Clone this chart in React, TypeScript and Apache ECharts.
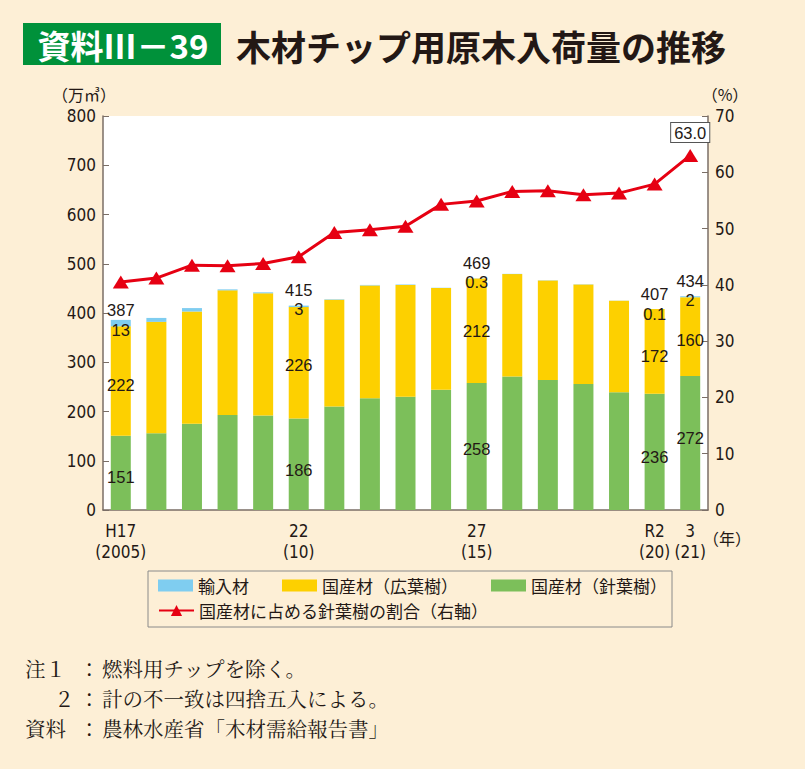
import React, { useEffect, useRef } from "react";
import * as echarts from "echarts";

// ---- data ----
const categories = ["2005","2006","2007","2008","2009","2010","2011","2012","2013","2014","2015","2016","2017","2018","2019","2020","2021"];
const tickLabels = ["H17\n(2005)","","","","","22\n(10)","","","","","27\n(15)","","","","","R2\n(20)","3\n(21)"];
const coniferous = [151,156,175,193,192,186,210,227,230,244,258,271,264,256,239,236,272];
const broadleaf = [222,226,228,253,248,226,217,229,227,207,212,208,202,202,186,172,160];
const imported = [13,8,7,2,2,3,1,1,1,0.5,0.3,0.5,0.5,0.5,0.3,0.1,2];
const importLabels = ["13","","","","","3","","","","","0.3","","","","","0.1","2"];
const totals = ["387","","","","","415","","","","","469","","","","","407","434"];
const ratio = [40.5,41.2,43.5,43.4,43.8,45.0,49.3,49.8,50.4,54.3,54.9,56.6,56.7,56.0,56.3,57.9,63.0];

const noteHeads = ["注１", "２", "資料"];
const noteBodies = ["燃料用チップを除く。", "計の不一致は四捨五入による。", "農林水産省「木材需給報告書」"];

// ---- label placement (style) ----
const coniferousLabelDy: Record<number, number> = { 0: 4, 5: 6, 10: 3, 15: 5, 16: -5 };
const broadleafLabelDy: Record<number, number> = { 0: 4, 5: 2, 10: 0, 15: 5, 16: 3 };
const importLabelDy: Record<number, number> = { 0: 0, 5: -6, 10: -6, 15: -5, 16: -6 };

const NUM_FONT = "'Liberation Sans Narrow', 'DejaVu Sans Condensed', 'Noto Sans CJK JP', sans-serif";
const LABEL_FONT = "'Liberation Sans', 'DejaVu Sans', sans-serif";
const JP_FONT = "'Noto Sans CJK JP', sans-serif";
const SERIF_FONT = "'Noto Serif CJK JP', 'Noto Sans CJK JP', serif";
const TEXT = "#231815";
const AXIS = "#7a6e66";

const C_IMPORT = "#7fcdf0";
const C_BROAD = "#fdd000";
const C_CONIF = "#7cbf5a";
const C_LINE = "#e60012";

export default function App() {
  const ref = useRef<HTMLDivElement>(null);
  useEffect(() => {
    if (!ref.current) return;
    const chart = echarts.init(ref.current, null, { renderer: "svg" });

    const labelBase = { color: TEXT, fontSize: 16.5, fontFamily: LABEL_FONT };

    const conifData = coniferous.map((v, i) =>
      i in coniferousLabelDy
        ? { value: v, label: { show: true, position: "inside", offset: [0, coniferousLabelDy[i]], ...labelBase } }
        : v
    );
    const broadData = broadleaf.map((v, i) =>
      i in broadleafLabelDy
        ? { value: v, label: { show: true, position: "inside", offset: [0, broadleafLabelDy[i]], ...labelBase } }
        : v
    );
    const importData = imported.map((v, i) =>
      i in importLabelDy
        ? {
            value: v,
            label: {
              show: true,
              position: "top",
              distance: 0,
              verticalAlign: "middle",
              align: "center",
              lineHeight: 19.5,
              offset: [0, importLabelDy[i]],
              formatter: totals[i] + "\n" + importLabels[i],
              ...labelBase,
            },
          }
        : v
    );
    const ratioData = ratio.map((v, i) =>
      i === ratio.length - 1
        ? {
            value: v,
            label: {
              show: true,
              position: "top",
              distance: 7,
              formatter: v.toFixed(1),
              backgroundColor: "#fff",
              borderColor: "#555",
              borderWidth: 1,
              padding: [2, 3, 0, 3],
              ...labelBase,
            },
          }
        : v
    );

    const noteStyle = { fill: TEXT, fontSize: 20.5, fontFamily: SERIF_FONT, verticalAlign: "middle" };
    const noteY = [668, 698, 728];
    const headX = [25, 54, 25];
    const notes: any[] = [];
    noteHeads.forEach((h, i) => {
      notes.push({ type: "text", x: headX[i], y: noteY[i], style: { text: h, ...noteStyle } });
      notes.push({ type: "text", x: 79, y: noteY[i], style: { text: "：", ...noteStyle } });
      notes.push({ type: "text", x: 102, y: noteY[i], style: { text: noteBodies[i], ...noteStyle } });
    });

    const option: any = {
      animation: false,
      backgroundColor: "#fdefd6",
      grid: { left: 103, right: 97, top: 116, bottom: 259, show: true, backgroundColor: "#ffffff", borderWidth: 0 },
      legend: [
        {
          data: ["輸入材", "国産材（広葉樹）", "国産材（針葉樹）"],
          left: 158,
          top: 577,
          padding: 0,
          icon: "rect",
          itemWidth: 35,
          itemHeight: 12,
          itemGap: 33,
          textStyle: { color: TEXT, fontSize: 17, fontFamily: JP_FONT },
        },
        {
          data: ["国産材に占める針葉樹の割合（右軸）"],
          left: 158,
          top: 602,
          padding: 0,
          itemWidth: 35,
          itemHeight: 14,
          textStyle: { color: TEXT, fontSize: 17, fontFamily: JP_FONT },
        },
      ],
      xAxis: {
        type: "category",
        data: categories,
        axisLine: { lineStyle: { color: AXIS, width: 1.5 } },
        axisTick: { inside: true, length: 6, lineStyle: { color: AXIS } },
        axisLabel: {
          interval: 0,
          margin: 10,
          lineHeight: 21,
          color: TEXT,
          fontSize: 17,
          fontFamily: NUM_FONT,
          formatter: (_v: string, i: number) => tickLabels[i],
        },
      },
      yAxis: [
        {
          type: "value",
          min: 0,
          max: 800,
          interval: 100,
          splitLine: { show: false },
          axisLine: { show: true, lineStyle: { color: AXIS, width: 1.5 } },
          axisTick: { show: true, inside: true, length: 6, lineStyle: { color: AXIS } },
          axisLabel: { color: TEXT, fontSize: 17, fontFamily: NUM_FONT, margin: 7 },
        },
        {
          type: "value",
          position: "right",
          min: 0,
          max: 70,
          interval: 10,
          splitLine: { show: false },
          axisLine: { show: true, lineStyle: { color: AXIS, width: 1.5 } },
          axisTick: { show: true, inside: true, length: 6, lineStyle: { color: AXIS } },
          axisLabel: { color: TEXT, fontSize: 17, fontFamily: NUM_FONT, margin: 7 },
        },
      ],
      series: [
        { name: "国産材（針葉樹）", type: "bar", stack: "t", barWidth: 20, itemStyle: { color: C_CONIF }, data: conifData },
        { name: "国産材（広葉樹）", type: "bar", stack: "t", barWidth: 20, itemStyle: { color: C_BROAD }, data: broadData },
        { name: "輸入材", type: "bar", stack: "t", barWidth: 20, itemStyle: { color: C_IMPORT }, data: importData, z: 3 },
        {
          name: "国産材に占める針葉樹の割合（右軸）",
          type: "line",
          yAxisIndex: 1,
          symbol: "triangle",
          symbolSize: [16, 13],
          lineStyle: { color: C_LINE, width: 3 },
          itemStyle: { color: C_LINE },
          z: 5,
          data: ratioData,
        },
      ],
      graphic: [
        { type: "rect", shape: { x: 23, y: 23, width: 198, height: 42 }, style: { fill: "#00913a" } },
        {
          type: "text",
          x: 123,
          y: 45,
          style: { text: "資料Ⅲ－39", fill: "#fff", fontSize: 33, fontWeight: "bold", fontFamily: JP_FONT, align: "center", verticalAlign: "middle" },
        },
        {
          type: "text",
          x: 236,
          y: 45,
          style: { text: "木材チップ用原木入荷量の推移", fill: TEXT, fontSize: 35, fontWeight: "bold", fontFamily: JP_FONT, verticalAlign: "middle" },
        },
        { type: "text", x: 84, y: 94, style: { text: "（万㎥）", fill: TEXT, fontSize: 16, fontFamily: JP_FONT, align: "center", verticalAlign: "middle" } },
        { type: "text", x: 725, y: 94, style: { text: "（%）", fill: TEXT, fontSize: 16, fontFamily: JP_FONT, align: "center", verticalAlign: "middle" } },
        { type: "text", x: 727, y: 538, style: { text: "（年）", fill: TEXT, fontSize: 16, fontFamily: JP_FONT, align: "center", verticalAlign: "middle" } },
        { type: "rect", shape: { x: 148, y: 571, width: 524, height: 56 }, style: { fill: "none", stroke: "#8a8a8a", lineWidth: 1 } },
        ...notes,
      ],
    };
    chart.setOption(option);
    return () => chart.dispose();
  }, []);
  return <div ref={ref} style={{ position: "absolute", left: 0, top: 0, width: 805, height: 769 }} />;
}
